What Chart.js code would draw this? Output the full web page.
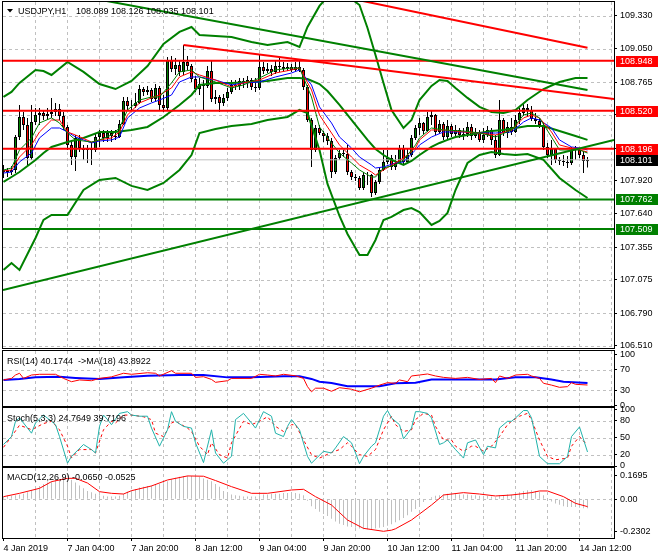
<!DOCTYPE html>
<html>
<head>
<meta charset="utf-8">
<title>USDJPY,H1</title>
<script src="https://cdn.jsdelivr.net/npm/chart.js@4.4.1/dist/chart.umd.min.js"></script>
<style>
  html, body { margin: 0; padding: 0; background: #ffffff; }
  #board { position: relative; width: 660px; height: 560px; overflow: hidden; background: #ffffff; }
  #board canvas { position: absolute; left: 0; }
</style>
</head>
<body>
<div id="board">
  <canvas id="priceChart" width="660" height="352" style="top:0px"></canvas>
  <canvas id="rsiChart" width="660" height="61" style="top:349px"></canvas>
  <canvas id="stochChart" width="660" height="64" style="top:406px"></canvas>
  <canvas id="macdChart" width="660" height="94" style="top:466px"></canvas>
</div>
<script>
// ============================================================================
// ------------------- Data: USDJPY H1 candles (bar 0 = 4 Jan 12:00) -------------------
// ============================================================================
const opens = [
  107.997, 108.014, 107.997, 108.014, 108.296, 108.467, 108.399, 108.117, 108.424, 108.484,
  108.501, 108.476, 108.493, 108.510, 108.535, 108.476, 108.382, 108.228, 108.125, 108.288,
  108.202, 108.185, 108.194, 108.185, 108.296, 108.330, 108.288, 108.330, 108.305, 108.296,
  108.407, 108.604, 108.561, 108.561, 108.587, 108.706, 108.681, 108.698, 108.621, 108.715,
  108.570, 108.544, 108.954, 108.877, 108.912, 108.852, 108.937, 108.903, 108.792, 108.706,
  108.749, 108.732, 108.860, 108.621, 108.638, 108.587, 108.630, 108.681, 108.741, 108.732,
  108.775, 108.758, 108.783, 108.724, 108.715, 108.894, 108.860, 108.877, 108.852, 108.903,
  108.894, 108.877, 108.894, 108.869, 108.894, 108.869, 108.724, 108.441, 108.185, 108.373,
  108.330, 108.305, 108.262, 107.997, 108.117, 108.159, 108.151, 107.997, 107.954, 107.946,
  107.860, 107.971, 107.971, 107.818, 107.912, 108.014, 108.083, 108.117, 108.040, 108.074,
  108.202, 108.083, 108.142, 108.288, 108.373, 108.416, 108.347, 108.467, 108.484, 108.339,
  108.407, 108.296, 108.390, 108.322, 108.356, 108.313, 108.322, 108.382, 108.305, 108.330,
  108.271, 108.313, 108.356, 108.271, 108.142, 108.441, 108.330, 108.382, 108.339, 108.441,
  108.501, 108.544, 108.527, 108.450, 108.433, 108.399, 108.211, 108.142, 108.194, 108.100,
  108.091, 108.083, 108.074, 108.185, 108.185, 108.142, 108.089
];
const highs = [
  108.057, 108.031, 108.048, 108.313, 108.570, 108.510, 108.459, 108.570, 108.544, 108.544,
  108.527, 108.544, 108.630, 108.587, 108.578, 108.510, 108.399, 108.271, 108.313, 108.313,
  108.228, 108.228, 108.253, 108.330, 108.356, 108.356, 108.356, 108.356, 108.356, 108.441,
  108.638, 108.638, 108.612, 108.672, 108.741, 108.724, 108.732, 108.715, 108.749, 108.732,
  108.655, 108.980, 108.988, 108.971, 108.954, 109.082, 108.988, 108.920, 108.818, 108.800,
  108.783, 108.903, 108.954, 108.698, 108.655, 108.664, 108.715, 108.783, 108.783, 108.800,
  108.800, 108.818, 108.800, 108.800, 108.997, 108.937, 108.929, 108.912, 108.954, 108.980,
  108.937, 108.929, 108.920, 108.937, 108.954, 108.886, 108.741, 108.459, 108.399, 108.399,
  108.347, 108.330, 108.288, 108.142, 108.185, 108.185, 108.228, 108.014, 107.980, 107.963,
  107.997, 107.997, 107.980, 107.929, 108.031, 108.185, 108.185, 108.142, 108.142, 108.228,
  108.228, 108.202, 108.313, 108.399, 108.459, 108.424, 108.510, 108.527, 108.493, 108.441,
  108.424, 108.441, 108.407, 108.399, 108.373, 108.373, 108.424, 108.407, 108.373, 108.356,
  108.373, 108.390, 108.373, 108.313, 108.612, 108.459, 108.424, 108.459, 108.484, 108.544,
  108.578, 108.578, 108.561, 108.501, 108.459, 108.424, 108.245, 108.271, 108.202, 108.125,
  108.142, 108.134, 108.211, 108.219, 108.202, 108.168, 108.126
];
const lows = [
  107.946, 107.954, 107.971, 107.988, 108.271, 108.356, 108.057, 108.100, 108.399, 108.399,
  108.441, 108.441, 108.459, 108.476, 108.441, 108.356, 108.185, 108.057, 108.006, 108.168,
  108.100, 108.074, 108.057, 108.168, 108.211, 108.253, 108.253, 108.253, 108.271, 108.288,
  108.399, 108.527, 108.527, 108.544, 108.578, 108.647, 108.655, 108.595, 108.604, 108.527,
  108.510, 108.527, 108.852, 108.826, 108.818, 108.826, 108.869, 108.766, 108.681, 108.655,
  108.527, 108.715, 108.595, 108.578, 108.510, 108.561, 108.604, 108.664, 108.698, 108.698,
  108.715, 108.715, 108.698, 108.681, 108.698, 108.835, 108.843, 108.818, 108.835, 108.852,
  108.852, 108.860, 108.852, 108.852, 108.852, 108.698, 108.424, 108.040, 108.168, 108.313,
  108.253, 108.228, 107.946, 107.980, 108.100, 108.125, 107.971, 107.929, 107.920, 107.843,
  107.843, 107.886, 107.783, 107.801, 107.895, 108.006, 108.065, 108.014, 108.014, 108.065,
  108.057, 108.074, 108.125, 108.271, 108.313, 108.322, 108.339, 108.399, 108.313, 108.322,
  108.271, 108.279, 108.296, 108.305, 108.288, 108.271, 108.296, 108.271, 108.288, 108.253,
  108.245, 108.296, 108.228, 108.117, 108.134, 108.305, 108.288, 108.313, 108.330, 108.407,
  108.476, 108.467, 108.433, 108.407, 108.373, 108.185, 108.117, 108.057, 108.074, 108.057,
  108.048, 108.031, 108.057, 108.100, 108.117, 107.988, 108.035
];
const closes = [
  108.014, 107.997, 108.014, 108.296, 108.467, 108.399, 108.117, 108.424, 108.484, 108.501,
  108.476, 108.493, 108.510, 108.535, 108.476, 108.382, 108.228, 108.125, 108.288, 108.202,
  108.185, 108.194, 108.185, 108.296, 108.330, 108.288, 108.330, 108.305, 108.296, 108.407,
  108.604, 108.561, 108.561, 108.587, 108.706, 108.681, 108.698, 108.621, 108.715, 108.570,
  108.544, 108.954, 108.877, 108.912, 108.852, 108.937, 108.903, 108.792, 108.706, 108.749,
  108.732, 108.860, 108.621, 108.638, 108.587, 108.630, 108.681, 108.741, 108.732, 108.775,
  108.758, 108.783, 108.724, 108.715, 108.894, 108.860, 108.877, 108.852, 108.903, 108.894,
  108.877, 108.894, 108.869, 108.894, 108.869, 108.724, 108.441, 108.185, 108.373, 108.330,
  108.305, 108.262, 107.997, 108.117, 108.159, 108.151, 107.997, 107.954, 107.946, 107.860,
  107.971, 107.971, 107.818, 107.912, 108.014, 108.083, 108.117, 108.040, 108.074, 108.202,
  108.083, 108.142, 108.288, 108.373, 108.416, 108.347, 108.467, 108.484, 108.339, 108.407,
  108.296, 108.390, 108.322, 108.356, 108.313, 108.322, 108.382, 108.305, 108.330, 108.271,
  108.313, 108.356, 108.271, 108.142, 108.441, 108.330, 108.382, 108.339, 108.441, 108.501,
  108.544, 108.527, 108.450, 108.433, 108.399, 108.211, 108.142, 108.194, 108.100, 108.091,
  108.083, 108.074, 108.185, 108.185, 108.142, 108.091, 108.101
];

// ------------------- Moving averages (read at sampled bars) -------------------
const maBars = [0, 2, 4, 7, 9, 12, 14, 16, 18, 22, 24, 27, 29, 31, 34, 37, 39, 42, 44, 47, 49, 53, 57, 60, 64, 68, 72, 74, 77, 79, 82, 84, 87, 89, 92, 93, 95, 98, 100, 103, 104, 107, 110, 115, 119, 123, 127, 130, 132, 134, 137, 139, 142, 144, 146];
const maFast = [108.014, 108.031, 108.185, 108.288, 108.416, 108.459, 108.416, 108.330, 108.271, 108.253, 108.271, 108.313, 108.373, 108.527, 108.612, 108.638, 108.638, 108.758, 108.852, 108.869, 108.809, 108.766, 108.715, 108.741, 108.800, 108.869, 108.886, 108.886, 108.638, 108.382, 108.245, 108.159, 108.074, 108.014, 107.954, 107.954, 108.031, 108.057, 108.100, 108.228, 108.288, 108.373, 108.356, 108.347, 108.330, 108.296, 108.356, 108.484, 108.501, 108.459, 108.296, 108.185, 108.185, 108.185, 108.159];
const maMid = [108.006, 108.014, 108.125, 108.228, 108.339, 108.441, 108.441, 108.339, 108.313, 108.253, 108.271, 108.288, 108.339, 108.484, 108.587, 108.630, 108.655, 108.715, 108.809, 108.852, 108.826, 108.783, 108.724, 108.758, 108.783, 108.843, 108.869, 108.886, 108.698, 108.484, 108.330, 108.228, 108.125, 108.057, 107.997, 107.971, 108.014, 108.074, 108.117, 108.202, 108.271, 108.356, 108.356, 108.339, 108.330, 108.313, 108.356, 108.459, 108.484, 108.459, 108.339, 108.228, 108.202, 108.185, 108.168];
const maSlow = [107.988, 107.997, 108.083, 108.159, 108.288, 108.373, 108.373, 108.339, 108.296, 108.245, 108.262, 108.271, 108.296, 108.459, 108.544, 108.587, 108.612, 108.655, 108.766, 108.809, 108.809, 108.783, 108.741, 108.758, 108.766, 108.809, 108.843, 108.869, 108.741, 108.553, 108.416, 108.296, 108.202, 108.125, 108.057, 108.031, 108.040, 108.074, 108.083, 108.185, 108.228, 108.296, 108.339, 108.339, 108.330, 108.330, 108.339, 108.424, 108.459, 108.441, 108.373, 108.271, 108.211, 108.202, 108.185];

// ------------------- Bollinger bands (read at sampled bars) -------------------
const bbBars = [0, 2, 4, 8, 10, 12, 16, 20, 24, 28, 32, 36, 40, 44, 47, 49, 53, 57, 62, 66, 71, 74, 76, 79, 81, 84, 86, 89, 91, 93, 95, 97, 100, 102, 104, 107, 109, 111, 113, 116, 119, 122, 125, 128, 131, 135, 139, 143, 146];
const bbUpper = [108.638, 108.681, 108.758, 108.869, 108.860, 108.826, 108.937, 108.852, 108.749, 108.706, 108.775, 108.903, 109.091, 109.194, 109.236, 109.168, 109.159, 109.151, 109.108, 109.082, 109.108, 109.065, 109.236, 109.416, 109.493, 109.518, 109.501, 109.424, 109.228, 108.997, 108.758, 108.527, 108.373, 108.441, 108.612, 108.732, 108.783, 108.775, 108.715, 108.630, 108.553, 108.510, 108.501, 108.527, 108.612, 108.706, 108.766, 108.800, 108.800];
const bbMiddle = [107.912, 107.954, 107.997, 108.100, 108.159, 108.211, 108.253, 108.288, 108.339, 108.339, 108.356, 108.382, 108.467, 108.570, 108.655, 108.741, 108.758, 108.758, 108.766, 108.775, 108.800, 108.800, 108.792, 108.749, 108.689, 108.570, 108.484, 108.356, 108.271, 108.194, 108.142, 108.100, 108.057, 108.091, 108.142, 108.211, 108.245, 108.271, 108.296, 108.313, 108.330, 108.347, 108.356, 108.373, 108.390, 108.390, 108.347, 108.305, 108.271];
const bbLower = [107.160, 107.219, 107.160, 107.433, 107.587, 107.630, 107.630, 107.843, 107.929, 107.946, 107.878, 107.843, 107.903, 108.014, 108.142, 108.330, 108.365, 108.390, 108.407, 108.441, 108.467, 108.527, 108.501, 108.185, 107.895, 107.621, 107.467, 107.288, 107.288, 107.416, 107.587, 107.613, 107.672, 107.689, 107.655, 107.544, 107.578, 107.647, 107.843, 108.074, 108.142, 108.168, 108.151, 108.142, 108.151, 108.100, 107.946, 107.843, 107.775];

// ------------------- Levels and trend lines -------------------
const redLevels = [108.948, 108.520, 108.196];
const greenLevels = [107.762, 107.509];
const bidPrice = 108.101;
const redUpperBars = [88, 146];          const redUpperPrices = [109.471, 109.059];
const redLowerBars = [45, 152.625];      const redLowerPrices = [109.082, 108.621];
const greenDownBars = [22, 146];         const greenDownPrices = [109.482, 108.698];
const greenUpBars = [-0.125, 152.625];   const greenUpPrices = [106.989, 108.271];

// ------------------- RSI(14) and its MA(18) -------------------
const rsiBars = [0, 2, 3, 4, 5, 7, 9, 13, 15, 17, 19, 22, 24, 27, 30, 32, 36, 38, 39, 42, 43, 47, 48, 50, 52, 53, 56, 57, 62, 64, 66, 68, 70, 73, 75, 76, 77, 78, 80, 82, 84, 87, 89, 92, 94, 96, 98, 99, 101, 102, 104, 106, 108, 110, 113, 116, 119, 122, 123, 124, 126, 128, 131, 132, 134, 135, 137, 139, 141, 142, 143, 146];
const rsiValues = [50, 53, 59.6, 63, 53, 59.6, 61, 61, 53, 46.6, 50, 48.5, 53, 56, 63, 61, 64, 63, 57.7, 68, 63, 63, 55, 56.3, 51, 45.4, 48.5, 53, 53, 61, 59.6, 57.7, 61, 58, 53, 37, 27, 34, 34, 28, 35, 32, 27, 34, 40, 44.7, 43.5, 50, 46.6, 57.7, 59.6, 61.6, 57.7, 55, 53, 55, 51, 53, 44.7, 57.7, 53, 59.6, 61, 57.7, 53, 43.5, 40, 35.7, 37, 44.7, 41.5, 40.1744];
const rsiMaBars = [0, 4, 8, 14, 18, 24, 30, 36, 44, 50, 56, 62, 70, 74, 77, 79, 82, 86, 94, 98, 103, 107, 115, 123, 128, 133, 137, 140, 146];
const rsiMaValues = [50, 52, 55, 56, 54, 52, 55, 58, 59.6, 59.6, 55, 55, 57, 57, 52, 46.6, 44, 38, 38, 43.5, 44.7, 51, 51, 51, 55, 55, 51, 46.6, 43.8922];

// ------------------- Stochastic(5,3,3) -------------------
const stochBars = [0, 2, 3, 4, 5, 6, 7, 8, 10, 12, 13, 14, 16, 17, 20, 22, 23, 24, 25, 26, 27, 29, 31, 32, 34, 36, 37, 39, 41, 42, 43, 45, 47, 48, 50, 52, 53, 55, 57, 58, 60, 62, 63, 65, 67, 68, 70, 71, 72, 74, 76, 77, 80, 82, 83, 85, 87, 88, 89, 90, 92, 93, 94, 95, 96, 97, 99, 100, 102, 103, 104, 106, 107, 109, 110, 111, 113, 115, 116, 118, 120, 121, 123, 124, 126, 127, 128, 130, 131, 132, 133, 134, 136, 139, 141, 142, 144, 146];
const stochMain = [38, 52, 79, 85, 76, 67, 58, 76, 90, 79, 73, 52, 5, 17, 38, 29, 23, 70, 90, 82, 73, 93, 96, 90, 88, 88, 67, 35, 64, 96, 79, 70, 67, 41, 6, 64, 23, 5, 17, 82, 93, 76, 67, 96, 88, 58, 52, 70, 82, 64, 17, 5, 26, 23, 32, 52, 41, 23, 4, 17, 35, 41, 64, 88, 98, 85, 73, 48, 67, 96, 96, 93, 85, 38, 41, 46, 29, 14, 41, 46, 20, 35, 32, 67, 79, 79, 85, 98, 98, 85, 52, 17, 4, 4, 17, 52, 69, 24.7649];
const stochSigBars = [0, 2, 4, 6, 7, 10, 12, 14, 16, 17, 19, 22, 23, 25, 27, 28, 30, 32, 35, 37, 38, 40, 42, 43, 46, 47, 49, 51, 52, 54, 56, 57, 60, 62, 64, 66, 68, 70, 72, 73, 75, 77, 79, 82, 84, 86, 87, 89, 91, 93, 95, 97, 98, 100, 102, 103, 105, 107, 108, 110, 112, 113, 115, 117, 118, 120, 122, 124, 126, 127, 129, 131, 132, 134, 136, 138, 141, 142, 144, 145, 146];
const stochSignal = [33, 52, 72, 67, 64, 75, 79, 64, 35, 14, 29, 29, 23, 64, 79, 76, 90, 90, 87, 82, 58, 52, 76, 79, 67, 61, 35, 20, 41, 20, 14, 41, 79, 73, 79, 87, 70, 61, 73, 73, 46, 20, 14, 24, 29, 41, 35, 20, 17, 29, 64, 88, 73, 61, 64, 82, 93, 90, 70, 46, 46, 35, 26, 35, 35, 26, 35, 52, 73, 79, 88, 93, 82, 46, 17, 11, 14, 35, 52, 43.5, 39.7196];

// ------------------- MACD(12,26,9) -------------------
const macdMain = [
  0.020, 0.025, 0.025, 0.030, 0.035, 0.040, 0.050, 0.065, 0.080, 0.095,
  0.110, 0.120, 0.130, 0.140, 0.145, 0.150, 0.150, 0.140, 0.120, 0.100,
  0.080, 0.060, 0.050, 0.040, 0.030, 0.025, 0.020, 0.020, 0.020, 0.025,
  0.040, 0.055, 0.065, 0.075, 0.085, 0.090, 0.095, 0.100, 0.110, 0.110,
  0.115, 0.130, 0.145, 0.155, 0.163, 0.168, 0.1695, 0.168, 0.165, 0.160,
  0.150, 0.140, 0.130, 0.110, 0.090, 0.060, 0.045, 0.035, 0.030, 0.025,
  0.020, 0.020, 0.020, 0.020, 0.030, 0.035, 0.035, 0.040, 0.040, 0.040,
  0.045, 0.045, 0.045, 0.045, 0.040, 0.030, -0.010, -0.050, -0.070, -0.090,
  -0.105, -0.120, -0.140, -0.160, -0.175, -0.185, -0.195, -0.200, -0.205, -0.210,
  -0.215, -0.215, -0.215, -0.210, -0.205, -0.200, -0.190, -0.180, -0.165, -0.150,
  -0.135, -0.115, -0.090, -0.070, -0.045, -0.020, 0.000, 0.015, 0.025, 0.030,
  0.035, 0.040, 0.040, 0.040, 0.035, 0.035, 0.035, 0.030, 0.030, 0.025,
  0.025, 0.025, 0.020, 0.015, 0.030, 0.030, 0.035, 0.035, 0.045, 0.050,
  0.060, 0.065, 0.065, 0.060, 0.055, 0.030, 0.005, -0.015, -0.030, -0.040,
  -0.050, -0.055, -0.055, -0.055, -0.060, -0.065, -0.065
];
const macdSigBars = [0, 4, 9, 12, 16, 18, 21, 24, 27, 30, 32, 37, 41, 46, 50, 53, 57, 62, 66, 72, 75, 78, 82, 86, 90, 95, 97, 98, 102, 107, 110, 115, 119, 123, 127, 132, 134, 136, 140, 143, 146];
const macdSignal = [0.019, 0.043, 0.079, 0.127, 0.151, 0.151, 0.117, 0.055, 0.043, 0.038, 0.062, 0.096, 0.139, 0.168, 0.166, 0.135, 0.091, 0.043, 0.043, 0.067, 0.072, 0.019, -0.041, -0.149, -0.209, -0.2302, -0.222, -0.212, -0.149, -0.041, 0.031, 0.048, 0.038, 0.024, 0.031, 0.048, 0.060, 0.060, 0.019, -0.029, -0.0525];

// ------------------- Axis ticks -------------------
const priceTicks = [109.330, 109.050, 108.765, 108.485, 108.200, 107.920, 107.640, 107.355, 107.075, 106.790, 106.510];
const rsiTicks = [100, 70, 30, 0];
const rsiLevels = [70, 30];
const stochTicks = [100, 80, 50, 20, 0];
const stochLevels = [80, 50, 20];
const macdTicks = [0.1695, 0, -0.2302];
const macdLevels = [0];
const gridBars = [0, 8, 16, 24, 32, 40, 48, 56, 64, 72, 80, 88, 96, 104, 112, 120, 128, 136, 144, 152];
const xLabelBars = [0, 16, 32, 48, 64, 80, 96, 112, 128, 144];
const xLabelTexts = ['4 Jan 2019', '7 Jan 04:00', '7 Jan 20:00', '8 Jan 12:00', '9 Jan 04:00',
                     '9 Jan 20:00', '10 Jan 12:00', '11 Jan 04:00', '11 Jan 20:00', '14 Jan 12:00'];

// ============================================================================
// ------------------- Styling -------------------
// ============================================================================
const FONT_FAMILY = '"Liberation Sans", Arial, sans-serif';
const GRID = '#c0c0c0';
const CLEAR = 'rgba(0,0,0,0)';
const GREEN = '#008000';
const RED = '#ff0000';
const X_MIN = -0.125;
const X_MAX = 152.625;

Chart.defaults.font.family = FONT_FAMILY;
Chart.defaults.font.size = 9;
Chart.defaults.color = '#000000';
Chart.defaults.animation = false;

// ------------------- Axis builders -------------------
// Chart.js keeps the tick marks; the dashed chart-area grid is stroked by panelDecor
function timeAxis(withLabels) {
  return {
    type: 'linear', min: X_MIN, max: X_MAX, offset: false,
    afterBuildTicks: s => { s.ticks = gridBars.map(v => ({ value: v })); },
    afterFit: s => { s.height = withLabels ? 20 : 0; s.paddingLeft = 0; s.paddingRight = 0; },
    grid: {
      offset: false, drawOnChartArea: false,
      drawTicks: withLabels, tickLength: 3, tickWidth: 1,
      tickColor: c => (c.tick && xLabelBars.includes(c.tick.value)) ? '#000' : CLEAR
    },
    border: { display: false },
    ticks: {
      display: withLabels, autoSkip: false, maxRotation: 0, minRotation: 0, align: 'start', padding: 2,
      callback: v => { const k = xLabelBars.indexOf(v); return k < 0 ? '' : xLabelTexts[k]; }
    }
  };
}

function valueAxis(min, max, tickValues, format) {
  return {
    type: 'linear', position: 'right', min, max,
    afterBuildTicks: s => { s.ticks = tickValues.map(v => ({ value: v })); },
    afterFit: s => { s.width = 46; s.paddingTop = 0; s.paddingBottom = 0; },
    grid: { drawOnChartArea: false, drawTicks: true, tickLength: 3, tickWidth: 1, tickColor: '#000' },
    border: { display: false },
    ticks: { autoSkip: false, padding: 3, callback: format }
  };
}

function series(xs, ys, color, width, order, dash) {
  return {
    type: 'line', data: xs.map((x, i) => ({ x, y: ys[i] })),
    borderColor: color, borderWidth: width, borderDash: dash || [],
    pointRadius: 0, tension: 0, fill: false, order, clip: 0
  };
}

// ------------------- Plugin: grid, frame, titles, price tags -------------------
const panelDecor = {
  id: 'panelDecor',
  beforeDatasetsDraw(chart, args, opts) {
    const { ctx, chartArea: a, scales } = chart;
    ctx.save();
    ctx.beginPath();
    ctx.rect(a.left, a.top, a.right - a.left, a.bottom - a.top);
    ctx.clip();
    ctx.strokeStyle = GRID;
    ctx.lineWidth = 1;
    ctx.setLineDash([3, 3]);
    scales.x.ticks.forEach(t => {
      if (t.value === 0) return;
      const x = Math.floor(scales.x.getPixelForValue(t.value)) + 0.5;
      ctx.beginPath(); ctx.moveTo(x, a.top); ctx.lineTo(x, a.bottom); ctx.stroke();
    });
    (opts.levels || []).forEach(v => {
      const y = Math.round(scales.y.getPixelForValue(v)) + 0.5;
      ctx.beginPath(); ctx.moveTo(a.left, y); ctx.lineTo(a.right, y); ctx.stroke();
    });
    ctx.restore();
  },
  afterDraw(chart, args, opts) {
    const { ctx, chartArea: a } = chart;
    ctx.save();
    ctx.strokeStyle = '#000';
    ctx.lineWidth = 1;
    ctx.strokeRect(a.left - 0.5, a.top - 0.5, a.right - a.left + 1, a.bottom - a.top + 1);

    ctx.font = '9px ' + FONT_FAMILY;
    ctx.fillStyle = '#000';
    ctx.textBaseline = 'alphabetic';
    (opts.texts || []).forEach(t => ctx.fillText(t.text, t.x, a.top + t.dy));

    if (opts.marker) {
      ctx.beginPath();
      ctx.moveTo(7, 9); ctx.lineTo(13, 9); ctx.lineTo(10, 12.5); ctx.closePath();
      ctx.fill();
    }

    (opts.tags || []).forEach(t => {
      const y = chart.scales.y.getPixelForValue(t.value);
      ctx.fillStyle = t.color;
      ctx.fillRect(a.right + 2, Math.round(y) - 5, 42, 11);
      ctx.fillStyle = '#ffffff';
      ctx.textBaseline = 'middle';
      ctx.fillText(t.value.toFixed(3), a.right + 6, Math.round(y) + 0.5);
    });
    ctx.restore();
  }
};

const baseOptions = (padding) => ({
  responsive: false,
  animation: false,
  events: [],
  layout: { autoPadding: false, padding },
  plugins: { legend: { display: false }, tooltip: { enabled: false } }
});

// ============================================================================
// ------------------- Chart: price panel -------------------
// ============================================================================
const last = closes.length - 1;
const priceDatasets = [
  {
    type: 'bar', data: lows.map((l, i) => ({ x: i, y: [l, highs[i]] })),
    backgroundColor: '#000', barThickness: 1, grouped: false, inflateAmount: 0, order: 20
  },
  {
    type: 'bar', data: opens.map((o, i) => ({ x: i, y: [o, closes[i]] })),
    backgroundColor: c => closes[c.dataIndex] >= opens[c.dataIndex] ? GREEN : RED,
    borderColor: '#000', borderWidth: 1, borderSkipped: false,
    barThickness: 3, grouped: false, inflateAmount: 0, order: 19
  },
  series([X_MIN, X_MAX], [bidPrice, bidPrice], GRID, 1, 15),
  series(bbBars, bbUpper, GREEN, 2, 10),
  series(bbBars, bbMiddle, GREEN, 2, 10),
  series(bbBars, bbLower, GREEN, 2, 10),
  series(maBars, maSlow, '#0000ff', 1, 8),
  series(maBars, maMid, RED, 1, 7),
  series(maBars, maFast, GREEN, 1, 6),
  ...redLevels.map(v => series([X_MIN, X_MAX], [v, v], RED, 2, 2)),
  ...greenLevels.map(v => series([X_MIN, X_MAX], [v, v], GREEN, 2, 2)),
  series(redUpperBars, redUpperPrices, RED, 2, 1),
  series(redLowerBars, redLowerPrices, RED, 2, 1),
  series(greenDownBars, greenDownPrices, GREEN, 2, 1),
  series(greenUpBars, greenUpPrices, GREEN, 2, 1)
];

const priceOptions = baseOptions({ left: 3, right: 0, top: 2, bottom: 4 });
priceOptions.scales = {
  x: timeAxis(false),
  y: valueAxis(106.4929, 109.4496, priceTicks, v => v.toFixed(3))
};
priceOptions.plugins.panelDecor = {
  marker: true,
  levels: priceTicks,
  texts: [
    { text: 'USDJPY,H1', x: 18, dy: 12 },
    { text: [opens[last], highs[last], lows[last], closes[last]].map(v => v.toFixed(3)).join(' '), x: 76, dy: 12 }
  ],
  tags: [
    ...redLevels.map(v => ({ value: v, color: RED })),
    { value: bidPrice, color: '#000000' },
    ...greenLevels.map(v => ({ value: v, color: GREEN }))
  ]
};
new Chart(document.getElementById('priceChart'), {
  type: 'bar', data: { datasets: priceDatasets }, options: priceOptions, plugins: [panelDecor]
});

// ============================================================================
// ------------------- Chart: RSI panel -------------------
// ============================================================================
const rsiOptions = baseOptions({ left: 3, right: 0, top: 2, bottom: 4 });
rsiOptions.scales = {
  x: timeAxis(false),
  y: valueAxis(-0.58, 106.2, rsiTicks, v => String(v))
};
rsiOptions.plugins.panelDecor = {
  levels: rsiLevels,
  texts: [{ text: 'RSI(14) ' + rsiValues[rsiValues.length - 1].toFixed(4) + '  ->MA(18) ' +
            rsiMaValues[rsiMaValues.length - 1].toFixed(4), x: 7, dy: 13 }]
};
new Chart(document.getElementById('rsiChart'), {
  type: 'line',
  data: { datasets: [
    series(rsiMaBars, rsiMaValues, '#0000ff', 2, 2),
    series(rsiBars, rsiValues, RED, 1, 1)
  ] },
  options: rsiOptions, plugins: [panelDecor]
});

// ============================================================================
// ------------------- Chart: Stochastic panel -------------------
// ============================================================================
const stochOptions = baseOptions({ left: 3, right: 0, top: 2, bottom: 4 });
stochOptions.scales = {
  x: timeAxis(false),
  y: valueAxis(0, 102.5, stochTicks, v => String(v))
};
stochOptions.plugins.panelDecor = {
  levels: stochLevels,
  texts: [{ text: 'Stoch(5,3,3) ' + stochMain[stochMain.length - 1].toFixed(4) + ' ' +
            stochSignal[stochSignal.length - 1].toFixed(4), x: 7, dy: 13 }]
};
new Chart(document.getElementById('stochChart'), {
  type: 'line',
  data: { datasets: [
    series(stochSigBars, stochSignal, RED, 1, 2, [3, 3]),
    series(stochBars, stochMain, '#20b2aa', 1, 1)
  ] },
  options: stochOptions, plugins: [panelDecor]
});

// ============================================================================
// ------------------- Chart: MACD panel -------------------
// ============================================================================
const macdOptions = baseOptions({ left: 3, right: 0, top: 2, bottom: 2 });
macdOptions.scales = {
  x: timeAxis(true),
  y: valueAxis(-0.2784, 0.2252, macdTicks, v => v === 0 ? '0.00' : v.toFixed(4))
};
macdOptions.plugins.panelDecor = {
  levels: macdLevels,
  texts: [{ text: 'MACD(12,26,9) ' + macdMain[last].toFixed(4) + ' ' +
            macdSignal[macdSignal.length - 1].toFixed(4), x: 7, dy: 12 }]
};
new Chart(document.getElementById('macdChart'), {
  type: 'bar',
  data: { datasets: [
    {
      type: 'bar', data: macdMain.map((v, i) => ({ x: i, y: v })),
      backgroundColor: GRID, barThickness: 1, grouped: false, inflateAmount: 0, order: 5
    },
    series(macdSigBars, macdSignal, RED, 1, 1)
  ] },
  options: macdOptions, plugins: [panelDecor]
});
</script>
</body>
</html>
